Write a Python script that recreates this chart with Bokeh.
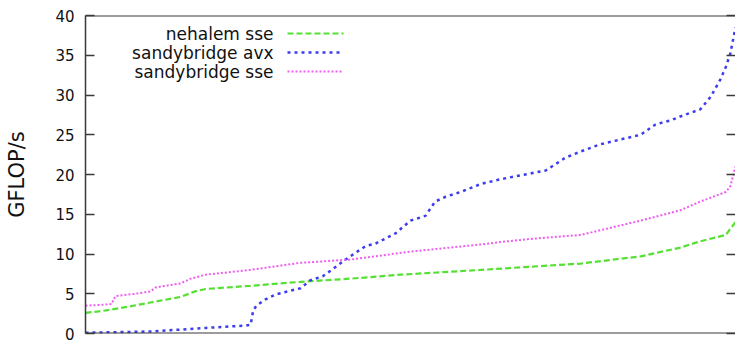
from bokeh.plotting import figure
from bokeh.models import Range1d, LinearAxis, Span, Label, FixedTicker, CustomJSTickFormatter
from bokeh.embed import file_html
from bokeh.resources import INLINE

# Runs sorted by performance; x is the position in the sorted list (percent)
nehalem_sse_x = [0, 2.3, 5.4, 10.0, 14.6, 16.9, 18.5, 25.4, 33.1, 40.8, 48.5, 60.8,
                 68.5, 76.2, 85.4, 91.5, 94.6, 98.5, 100]
nehalem_sse_y = [2.6, 2.8, 3.2, 3.9, 4.6, 5.3, 5.6, 6.0, 6.5, 6.9, 7.4, 8.0,
                 8.4, 8.8, 9.7, 10.8, 11.6, 12.4, 14.0]

snb_avx_x = [0, 10.0, 18.5, 24.6, 25.4, 25.8, 26.3, 27.7, 29.2, 33.1, 34.6, 36.5,
             37.7, 40.0, 43.1, 44.6, 47.7, 50.0, 52.3, 53.8, 55.4, 57.7, 60.8,
             63.8, 70.8, 72.3, 73.8, 76.2, 79.2, 85.4, 87.7, 90.0, 91.5, 94.6,
             96.2, 97.7, 98.5, 99.2, 100]
snb_avx_y = [0.1, 0.25, 0.7, 1.0, 1.1, 2.9, 3.5, 4.3, 4.9, 5.7, 6.7, 7.2,
             7.9, 9.3, 11.0, 11.3, 12.6, 14.2, 14.8, 16.6, 17.2, 17.8, 18.8,
             19.4, 20.5, 21.3, 22.1, 22.9, 23.8, 25.0, 26.3, 26.8, 27.3, 28.2,
             29.8, 32.0, 33.5, 35.2, 38.5]

snb_sse_x = [0, 2.3, 4.0, 4.6, 7.7, 10.0, 10.8, 14.6, 16.2, 18.5, 25.4, 33.1,
             40.8, 50.0, 60.8, 63.8, 68.5, 76.2, 85.4, 91.5, 94.6, 98.5, 99.2, 100]
snb_sse_y = [3.5, 3.6, 3.7, 4.7, 5.0, 5.3, 5.8, 6.3, 6.9, 7.4, 8.0, 8.9,
             9.3, 10.3, 11.2, 11.5, 11.9, 12.4, 14.2, 15.5, 16.6, 17.8, 18.5, 21.0]

y_ticks = [0, 5, 10, 15, 20, 25, 30, 35, 40]

series = [
    ("nehalem sse", nehalem_sse_x, nehalem_sse_y, "#55e033", "6 3", 2.2),
    ("sandybridge avx", snb_avx_x, snb_avx_y, "#3c3cf0", "3 4", 2.5),
    ("sandybridge sse", snb_sse_x, snb_sse_y, "#f05cf0", "2 2", 2),
]

W, H = 735, 343
LEFT, TOP, BOTTOM = 85, 15, 10
X0, X1, Y0, Y1 = 0, 100, 0, 40

p = figure(width=W, height=H, output_backend="svg", toolbar_location=None,
           x_range=Range1d(X0, X1), y_range=Range1d(Y0, Y1),
           min_border_left=LEFT, min_border_top=TOP, min_border_bottom=BOTTOM,
           min_border_right=0, x_axis_location=None, y_axis_location="left")
p.outline_line_color = None
p.grid.visible = False
p.background_fill_color = "white"
p.border_fill_color = "white"

FONT = "DejaVu Sans"
frame_color = "#3a3a3a"

yaxis = p.yaxis[0]
yaxis.ticker = FixedTicker(ticks=y_ticks)
yaxis.minor_tick_line_color = None
yaxis.major_tick_in = 9
yaxis.major_tick_out = 0
yaxis.major_tick_line_width = 1.5
yaxis.major_tick_line_color = frame_color
yaxis.axis_line_width = 1.5
yaxis.axis_line_color = frame_color
yaxis.major_label_text_font = FONT
yaxis.major_label_text_font_size = "15px"
yaxis.major_label_text_color = "#111111"
yaxis.major_label_standoff = 11
yaxis.axis_label = "GFLOP/s"
yaxis.axis_label_text_font = FONT
yaxis.axis_label_text_font_size = "21px"
yaxis.axis_label_text_font_style = "normal"
yaxis.axis_label_text_color = "#111111"
yaxis.axis_label_standoff = 23

# mirrored tick marks on the right edge
raxis = LinearAxis(ticker=FixedTicker(ticks=y_ticks),
                   formatter=CustomJSTickFormatter(code="return ''"))
raxis.axis_line_color = None
raxis.minor_tick_line_color = None
raxis.major_tick_in = 9
raxis.major_tick_out = 0
raxis.major_tick_line_width = 1.5
raxis.major_tick_line_color = frame_color
raxis.major_label_standoff = 0
p.add_layout(raxis, "right")

# top and bottom frame lines
for loc in (Y0, Y1):
    p.add_layout(Span(location=loc, dimension="width", line_color=frame_color,
                      line_width=2))

for name, xs, ys, color, dash, lw in series:
    p.line(xs, ys, line_color=color, line_dash=dash, line_width=lw)

# key in the upper left: right-aligned names followed by line samples
frame_w = W - LEFT
frame_h = H - TOP - BOTTOM


def px_to_x(px):
    return X0 + (px - LEFT) / frame_w * (X1 - X0)


def py_to_y(py):
    return Y0 + (H - BOTTOM - py) / frame_h * (Y1 - Y0)


text_right = px_to_x(273)
key_start, key_end = px_to_x(287), px_to_x(343)
for i, (name, xs, ys, color, dash, lw) in enumerate(series):
    yy = py_to_y(33 + 19 * i)
    p.add_layout(Label(x=text_right, y=yy, text=name, text_align="right",
                       text_baseline="middle", text_font=FONT,
                       text_font_size="17px", text_color="#111111"))
    p.line([key_start, key_end], [yy, yy], line_color=color, line_dash=dash,
           line_width=lw)

open("out.html", "w").write(file_html(p, INLINE))
